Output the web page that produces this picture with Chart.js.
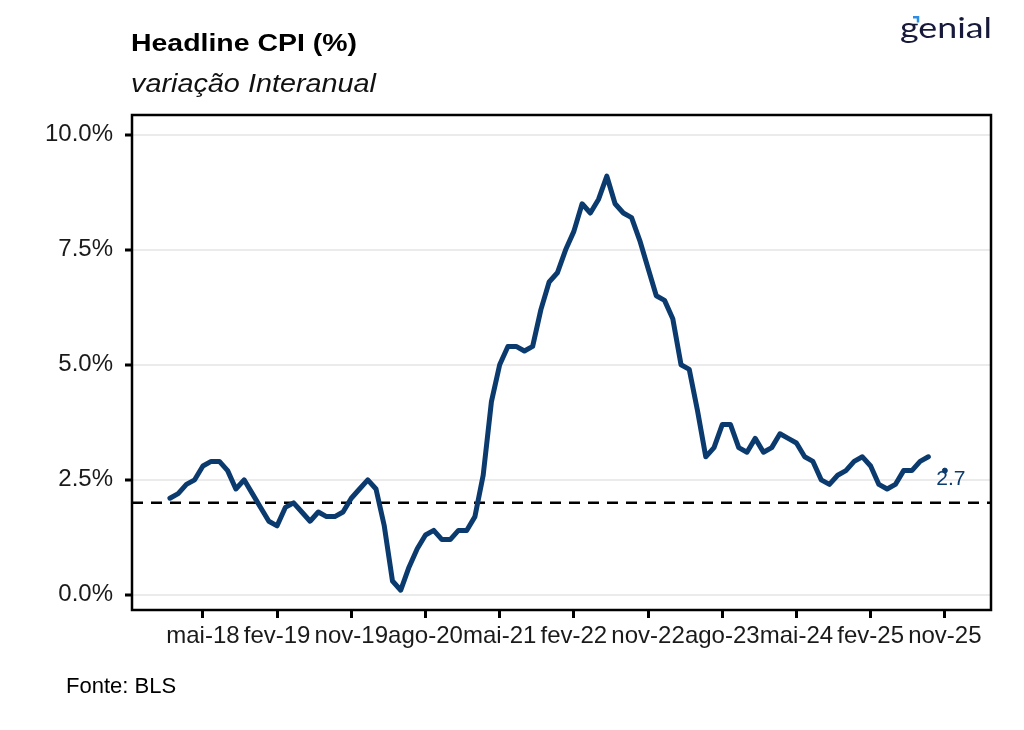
<!DOCTYPE html>
<html>
<head>
<meta charset="utf-8">
<script src="https://cdn.jsdelivr.net/npm/chart.js@4"></script>
<style>
  html, body { margin: 0; padding: 0; background: #fff; }
  canvas { display: block; }
</style>
</head>
<body>
<canvas id="cpi" width="1024" height="730"></canvas>
<script>
// CPI YoY (%), monthly from jan-18 to set-25
const cpiValues = [
  2.1, 2.2, 2.4, 2.5, 2.8, 2.9, 2.9, 2.7, 2.3, 2.5, 2.2, 1.9,
  1.6, 1.5, 1.9, 2.0, 1.8, 1.6, 1.8, 1.7, 1.7, 1.8, 2.1, 2.3,
  2.5, 2.3, 1.5, 0.3, 0.1, 0.6, 1.0, 1.3, 1.4, 1.2, 1.2, 1.4,
  1.4, 1.7, 2.6, 4.2, 5.0, 5.4, 5.4, 5.3, 5.4, 6.2, 6.8, 7.0,
  7.5, 7.9, 8.5, 8.3, 8.6, 9.1, 8.5, 8.3, 8.2, 7.7, 7.1, 6.5,
  6.4, 6.0, 5.0, 4.9, 4.0, 3.0, 3.2, 3.7, 3.7, 3.2, 3.1, 3.4,
  3.1, 3.2, 3.5, 3.4, 3.3, 3.0, 2.9, 2.5, 2.4, 2.6, 2.7, 2.9,
  3.0, 2.8, 2.4, 2.3, 2.4, 2.7, 2.7, 2.9, 3.0
];
// last print (nov-25), after the missing october
const lastMonthIndex = 94;
const lastValue = 2.7;
const targetRate = 2.0;

// x ticks: month index counted from jan-18, and label
const xTickMonths = [4, 13, 22, 31, 40, 49, 58, 67, 76, 85, 94];
const xTickLabels = ['mai-18', 'fev-19', 'nov-19', 'ago-20', 'mai-21', 'fev-22', 'nov-22', 'ago-23', 'mai-24', 'fev-25', 'nov-25'];
const yTicks = [0, 2.5, 5, 7.5, 10];

const X_MIN = -4.6, X_MAX = 99.6;
const Y_MIN = -0.33, Y_MAX = 10.43;
const NAVY = '#0b3a6e';
const FONT = '"Liberation Sans", Arial, sans-serif';

const cpiPoints = cpiValues.map((v, i) => ({ x: i, y: v }));

// text squeezed/stretched to a given width
function fitText(c, txt, x, y, width) {
  const w = c.measureText(txt).width;
  c.save();
  c.translate(x, y);
  c.scale(width / w, 1);
  c.fillText(txt, 0, 0);
  c.restore();
}

const decor = {
  id: 'decor',
  beforeDraw(chart) {
    const c = chart.ctx;
    c.save();
    c.fillStyle = '#fff';
    c.fillRect(0, 0, chart.width, chart.height);
    c.restore();
  },
  afterDraw(chart) {
    const c = chart.ctx, a = chart.chartArea;
    c.save();
    // frame
    c.strokeStyle = '#000';
    c.lineWidth = 2.5;
    c.strokeRect(a.left, a.top, a.right - a.left, a.bottom - a.top);
    // label of last point
    const px = chart.scales.x.getPixelForValue(lastMonthIndex);
    const py = chart.scales.y.getPixelForValue(lastValue);
    c.fillStyle = NAVY;
    c.font = '21px ' + FONT;
    c.textAlign = 'center';
    c.textBaseline = 'middle';
    c.fillText(lastValue.toFixed(1), px + 6, py + 9);
    // titles
    c.textAlign = 'left';
    c.textBaseline = 'alphabetic';
    c.fillStyle = '#000';
    c.font = 'bold 23px ' + FONT;
    fitText(c, 'Headline CPI (%)', 131, 51, 226);
    c.font = 'italic 25px ' + FONT;
    c.fillStyle = '#111';
    fitText(c, 'variação Interanual', 131, 91.5, 245);
    c.font = '22px ' + FONT;
    c.fillStyle = '#000';
    c.fillText('Fonte: BLS', 66, 693);
    // logo
    c.fillStyle = '#16193a';
    c.font = '28px Lato, "Open Sans", sans-serif';
    fitText(c, 'genial', 900, 38, 92);
    c.strokeStyle = '#2b8de3';
    c.lineWidth = 2.5;
    c.beginPath();
    c.moveTo(913, 17.3); c.lineTo(918, 17.3); c.lineTo(918, 22.5);
    c.stroke();
    c.restore();
  }
};

new Chart(document.getElementById('cpi'), {
  type: 'line',
  data: {
    datasets: [
      {
        data: cpiPoints,
        borderColor: NAVY,
        borderWidth: 5,
        pointRadius: 0,
        tension: 0,
        borderJoinStyle: 'round',
        borderCapStyle: 'round'
      },
      {
        data: [{ x: lastMonthIndex, y: lastValue }],
        showLine: false,
        pointRadius: 2.5,
        pointBackgroundColor: NAVY,
        pointBorderColor: NAVY
      },
      {
        data: [{ x: X_MIN, y: targetRate }, { x: X_MAX, y: targetRate }],
        borderColor: '#000',
        borderWidth: 2.5,
        borderDash: [11, 8],
        pointRadius: 0
      }
    ]
  },
  options: {
    responsive: false,
    animation: false,
    devicePixelRatio: 1,
    layout: { padding: { top: 115, right: 33, left: 0, bottom: 0 } },
    plugins: { legend: { display: false }, tooltip: { enabled: false } },
    scales: {
      x: {
        type: 'linear',
        min: X_MIN,
        max: X_MAX,
        afterBuildTicks(s) { s.ticks = xTickMonths.map(v => ({ value: v })); },
        afterFit(s) { s.height = 120; },
        ticks: {
          autoSkip: false,
          maxRotation: 0,
          padding: 4,
          color: '#1a1a1a',
          font: { family: FONT, size: 24 },
          callback(v) { const k = xTickMonths.indexOf(v); return k >= 0 ? xTickLabels[k] : ''; }
        },
        grid: { drawOnChartArea: false, tickLength: 8, tickColor: '#000', tickWidth: 3 },
        border: { display: false }
      },
      y: {
        min: Y_MIN,
        max: Y_MAX,
        afterBuildTicks(s) { s.ticks = yTicks.map(v => ({ value: v })); },
        afterFit(s) { s.width = 132; },
        ticks: {
          padding: 12,
          color: '#1a1a1a',
          font: { family: FONT, size: 24 },
          callback(v) { return v.toFixed(1) + '%'; }
        },
        grid: { color: '#ebebeb', lineWidth: 2, tickLength: 7, tickColor: '#000', tickWidth: 3 },
        border: { display: false }
      }
    }
  },
  plugins: [decor]
});
</script>
</body>
</html>
